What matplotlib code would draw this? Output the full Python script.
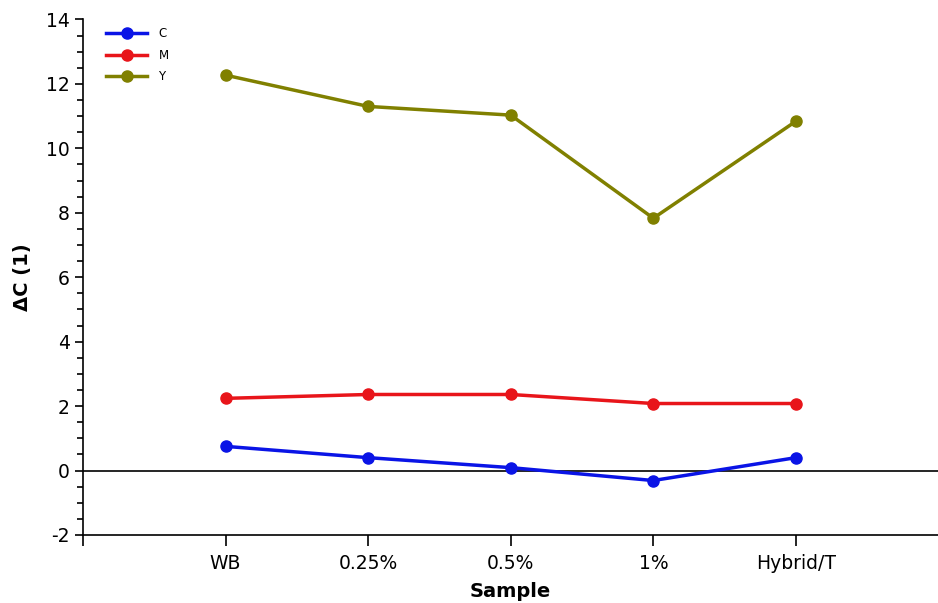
import matplotlib
matplotlib.use("Agg")
import matplotlib.pyplot as plt
from matplotlib.ticker import MultipleLocator

categories = ["WB", "0.25%", "0.5%", "1%", "Hybrid/T"]
C_vals = [0.75, 0.40, 0.09, -0.31, 0.40]
M_vals = [2.24, 2.36, 2.36, 2.08, 2.08]
Y_vals = [12.27, 11.30, 11.03, 7.83, 10.84]

plt.rcParams['font.family'] = ['DejaVu Sans']
plt.rcParams['axes.unicode_minus'] = False

fig = plt.figure(figsize=(9.38, 6.03), dpi=100)
ax = fig.add_axes([0.0885, 0.1128, 0.912, 0.855])

x = list(range(1, len(categories) + 1))
series = [("C", C_vals, "#0a14e6"), ("M", M_vals, "#e8151a"), ("Y", Y_vals, "#808000")]
for name, vals, col in series:
    ax.plot(x, vals, color=col, lw=2.5, marker="o", ms=8, label=name)

ax.axhline(0, color="black", lw=1.2, zorder=1)
ax.set_xlim(0, 6)
ax.set_ylim(-2, 14)
ax.set_xticks([0] + x)
ax.set_xticklabels([""] + categories)
ax.yaxis.set_major_locator(MultipleLocator(2))
ax.yaxis.set_minor_locator(MultipleLocator(0.5))
ax.tick_params(axis="both", labelsize=13.5, direction="out", length=6, width=1.2)
ax.tick_params(axis="y", which="minor", length=4, width=1.2)
ax.tick_params(axis="x", length=8, pad=6)
for s in ["top", "right"]:
    ax.spines[s].set_visible(False)
for s in ["left", "bottom"]:
    ax.spines[s].set_linewidth(1.2)

ax.set_xlabel("Sample", fontsize=14, fontweight="bold", labelpad=6)
ax.set_ylabel("ΔC (1)", fontsize=14, fontweight="bold", labelpad=10)

ax.legend(loc="upper left", bbox_to_anchor=(0.015, 1.005), frameon=False, fontsize=8.5,
          handlelength=3.4, labelspacing=0.72, handletextpad=1.0)

fig.savefig("out.png", dpi=100)
